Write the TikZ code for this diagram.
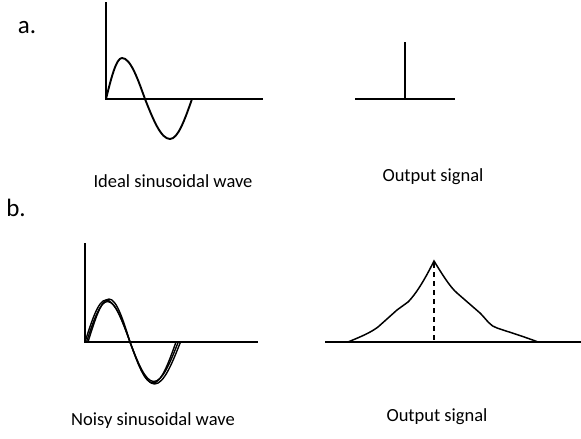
\documentclass[tikz,border=0pt]{standalone}
\usepackage{fontspec}
\setmainfont{Carlito}
\usepackage{tikz}

\begin{document}
\begin{tikzpicture}[
        x=1pt, y=-1pt,
        axis/.style={line width=1.7pt},
        wave/.style={line width=1.9pt},
        caption/.style={font=\fontsize{18.5}{22}\selectfont},
        part/.style={font=\fontsize{25}{30}\selectfont}
    ]
    \useasboundingbox (0,0) rectangle (581,439);

    % part a
    \node[part] (partA) at (27,28) {a.};

    \draw[axis] (106,2) -- (106,99) -- (263,99);
    \draw[wave] (106,99) sin (122,58) cos (145,99) sin (170,139) cos (192,99);
    \node[caption] (capIdeal) at (173,181) {Ideal sinusoidal wave};

    \draw[axis] (355,99) -- (455,99);
    \draw[axis] (405,42) -- (405,99);
    \node[caption] (capOutA) at (433,177) {Output signal};

    % part b
    \node[part] (partB) at (16,208) {b.};

    \draw[axis] (85,243) -- (85,342) -- (258,342);
    \foreach \dx/\dy in {0/0, 1.5/1.5, 3/-1} {
        \draw[wave, line width=1.4pt] (85+\dx,342) sin (106+\dx,300+\dy) cos (130,342) sin (153+\dx*0.5,383-\dy) cos (176+\dx*1.5,342);
    }
    \node[caption] (capNoisy) at (153,421) {Noisy sinusoidal wave};

    \draw[axis] (325,342) -- (581,342);
    \draw[wave, line width=1.5pt] (348,342) .. controls (360,337) and (370,333) .. (378,327)
        -- (397,310) -- (408,302) .. controls (418,292) and (428,273) .. (434,261)
        .. controls (442,274) and (450,287) .. (457,293)
        -- (480,313) .. controls (487,320) and (490,326) .. (497,328)
        .. controls (512,333) and (525,337) .. (538,342);
    \draw[axis, dashed, dash pattern=on 5pt off 4pt] (434,263) -- (434,342);
    \node[caption] (capOutB) at (437,417) {Output signal};
\end{tikzpicture}
\end{document}
